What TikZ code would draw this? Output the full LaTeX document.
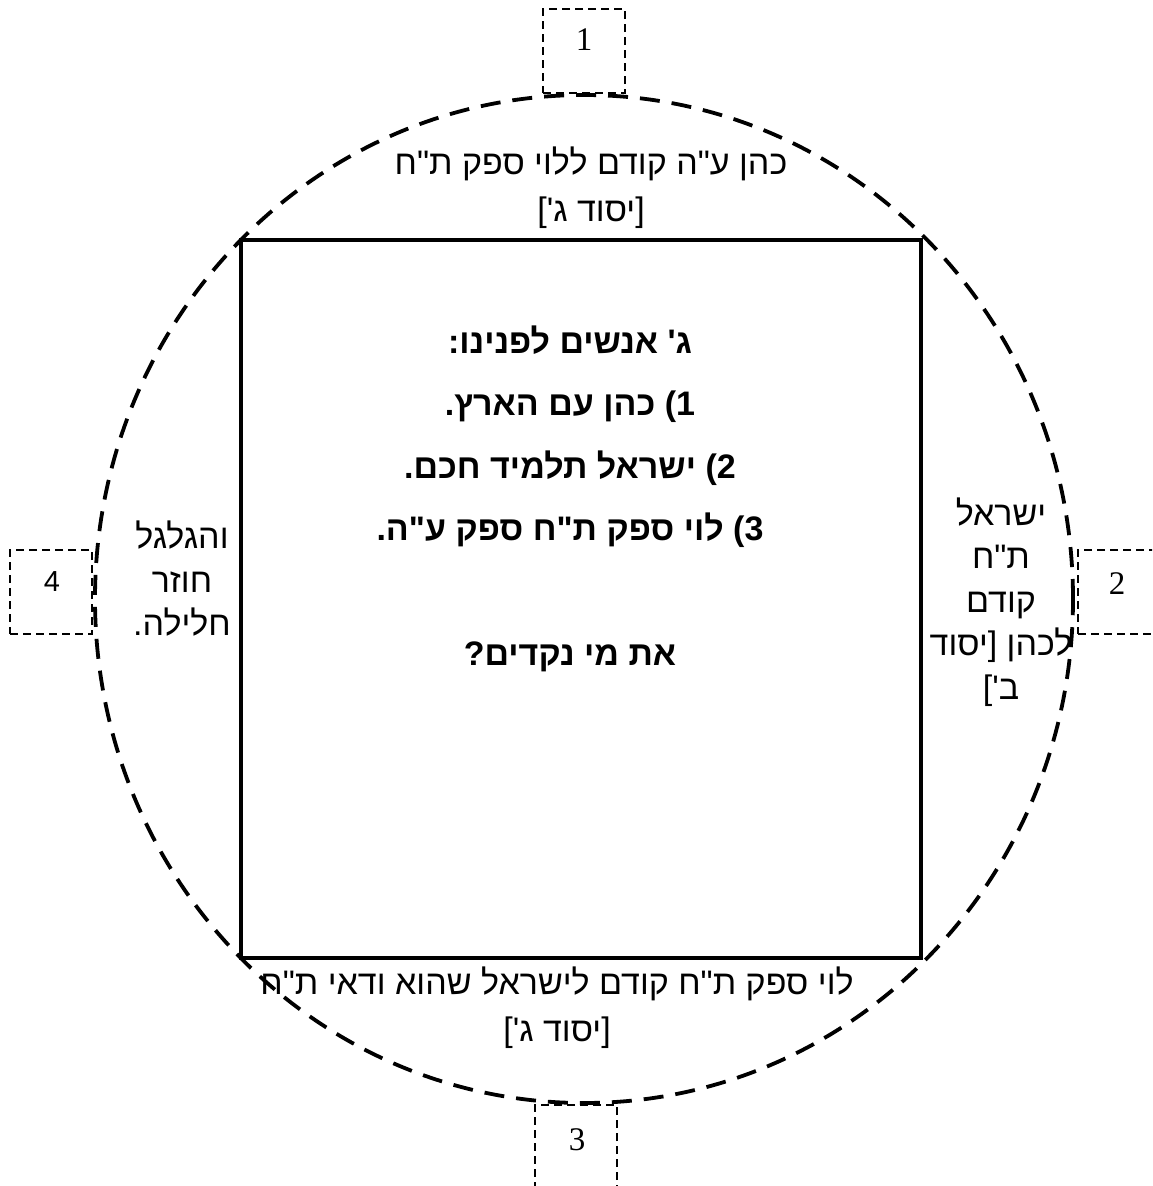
\documentclass[tikz,border=0pt]{standalone}
\usepackage{fontspec}
\setmainfont{Liberation Sans}
\newfontfamily\hebfont[Script=Hebrew,Ligatures=TeXOff]{Liberation Sans}
\newfontfamily\numfont{Liberation Serif}
\TeXXeTstate=1
\newcommand{\heb}[1]{\beginR #1\endR}

\begin{document}
\begin{tikzpicture}[x=1pt,y=-1pt,
  rim/.style={line width=3.8pt, dash pattern=on 20pt off 12pt},
  board/.style={draw, line width=3.5pt, minimum width=680pt, minimum height=718pt, inner sep=0pt},
  numbox/.style={draw, line width=1.2pt, dash pattern=on 8pt off 5pt,
                 minimum width=82pt, minimum height=84pt, inner sep=0pt},
  numtxt/.style={inner sep=0pt, font=\numfont\fontsize{33}{33}\selectfont},
  txt/.style={align=center, inner sep=0pt, font=\hebfont\fontsize{34}{47}\selectfont},
  sidetxt/.style={txt, font=\hebfont\fontsize{34}{43.5}\selectfont},
  bigtxt/.style={align=center, inner sep=0pt, font=\hebfont\bfseries\fontsize{34}{62.5}\selectfont}
]
  \clip (0,0) rectangle (1152,1186);

  % the wheel and the square inside it
  \draw[rim] (584,599) ellipse [x radius=489pt, y radius=504pt];
  \node[board] (sq) at (581,599) {};

  % numbered boxes round the wheel
  \node[numbox] (b1) at (584,51) {};
  \node[numbox] (b2) at (1119,592) {};
  \node[numbox] (b3) at (576,1147) {};
  \node[numbox] (b4) at (51,592) {};
  \node[numtxt] (t1) at (584,40) {1};
  \node[numtxt] (t2) at (1117,584) {2};
  \node[numtxt] (t3) at (577,1140) {3};
  \node[numtxt, font=\fontsize{29}{29}\selectfont] (t4) at (52,582) {4};

  % texts on the wheel
  \node[txt] (top) at (591,188) {\heb{כהן ע"ה קודם ללוי ספק ת"ח}\\\heb{[יסוד ג']}};
  \node[sidetxt] (rgt) at (1001,602) {\heb{ישראל}\\\heb{ת"ח}\\\heb{קודם}\\\heb{לכהן [יסוד}\\\heb{ב']}};
  \node[txt] (bot) at (557,1008) {\heb{לוי ספק ת"ח קודם לישראל שהוא ודאי ת"ח}\\\heb{[יסוד ג']}};
  \node[sidetxt] (lft) at (182,579) {\heb{והגלגל}\\\heb{חוזר}\\\heb{חלילה.}};

  % the question in the middle
  \node[bigtxt] (mid) at (570,499) {\heb{ג' אנשים לפנינו:}\\\heb{1) כהן עם הארץ.}\\\heb{2) ישראל תלמיד חכם.}\\\heb{3) לוי ספק ת"ח ספק ע"ה.}\\[62.5pt]\heb{את מי נקדים?}};
\end{tikzpicture}
\end{document}
